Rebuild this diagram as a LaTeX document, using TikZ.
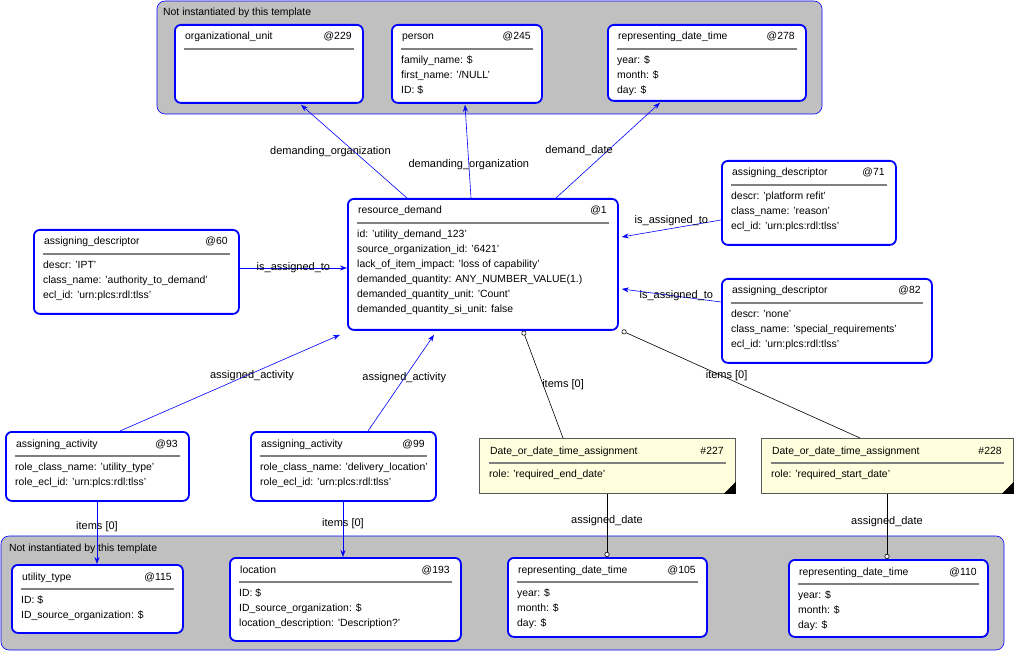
\documentclass[tikz,border=0pt]{standalone}
\usepackage{fontspec}
\setmainfont{Liberation Sans}
\usetikzlibrary{calc,arrows.meta,positioning}

\definecolor{grpgray}{RGB}{192,192,192}
\definecolor{noteyel}{RGB}{255,255,221}

\tikzset{
	ent/.style={draw=blue,line width=1.8pt,rounded corners=6pt,fill=white,inner sep=0pt},
	note/.style={draw=gray!70!black,line width=0.8pt,fill=noteyel,inner sep=0pt},
	grp/.style={draw=blue,line width=0.6pt,rounded corners=8pt,fill=grpgray},
	rel/.style={draw=blue,line width=0.6pt,-{Stealth[length=7pt,width=5pt]}},
	agg/.style={draw=black,line width=0.6pt,-{Circle[open,length=5pt,width=5pt,fill=white]}},
	lbl/.style={font=\fontsize{11}{12}\selectfont,inner sep=1pt},
	txt/.style={font=\fontsize{10.4}{15}\selectfont,inner sep=0pt},
}

% #1 name, #2 style, #3 x, #4 y, #5 w, #6 h, #7 title, #8 id, #9 attributes
\newcommand\entbox[9]{%
	\node[#2,minimum width=#5pt,minimum height=#6pt,anchor=north west] (#1) at (#3,#4) {};
	\node[txt,anchor=base west] at ($(#1.north west)+(11,16)$) {#7};
	\node[txt,anchor=base east] at ($(#1.north east)+(-12,16)$) {#8};
	\draw[gray,line width=1.4pt] ($(#1.north west)+(10,25)$) -- ($(#1.north east)+(-10,25)$);
	\node[txt,anchor=north west,align=left] at ($(#1.north west)+(10,32)$) {#9};
}

\begin{document}
\begin{tikzpicture}[x=1pt,y=-1pt]
	\useasboundingbox (0,0) rectangle (1015,652);
	% groups
	\draw[grp] (157,1) rectangle (822,114);
	\node[txt,anchor=base west] at (163,16) {Not instantiated by this template};
	\draw[grp] (1,536) rectangle (1004,650);
	\node[txt,anchor=base west] at (9,551) {Not instantiated by this template};

	% top group
	\entbox{org}{ent}{174}{24}{188}{78}{organizational\_unit}{@229}{}
	\entbox{pers}{ent}{391}{24}{150}{78}{person}{@245}{family\_name: \$\\first\_name: '/NULL'\\ID: \$}
	\entbox{rdtA}{ent}{607}{24}{198}{76}{representing\_date\_time}{@278}{year: \$\\month: \$\\day: \$}

	% centre
	\entbox{rd}{ent}{347}{198}{270}{131}{resource\_demand}{@1}{id: 'utility\_demand\_123'\\source\_organization\_id: '6421'\\lack\_of\_item\_impact: 'loss of capability'\\demanded\_quantity: ANY\_NUMBER\_VALUE(1.)\\demanded\_quantity\_unit: 'Count'\\demanded\_quantity\_si\_unit: false}
	\entbox{adA}{ent}{33}{229}{205}{84}{assigning\_descriptor}{@60}{descr: 'IPT'\\class\_name: 'authority\_to\_demand'\\ecl\_id: 'urn:plcs:rdl:tlss'}
	\entbox{adB}{ent}{721}{160}{174}{84}{assigning\_descriptor}{@71}{descr: 'platform refit'\\class\_name: 'reason'\\ecl\_id: 'urn:plcs:rdl:tlss'}
	\entbox{adC}{ent}{721}{278}{210}{84}{assigning\_descriptor}{@82}{descr: 'none'\\class\_name: 'special\_requirements'\\ecl\_id: 'urn:plcs:rdl:tlss'}

	% activities and notes
	\entbox{actA}{ent}{5}{431}{183}{69}{assigning\_activity}{@93}{role\_class\_name: 'utility\_type'\\role\_ecl\_id: 'urn:plcs:rdl:tlss'}
	\entbox{actB}{ent}{250}{431}{185}{69}{assigning\_activity}{@99}{role\_class\_name: 'delivery\_location'\\role\_ecl\_id: 'urn:plcs:rdl:tlss'}
	\entbox{dtA}{note}{479}{438}{256}{55}{Date\_or\_date\_time\_assignment}{\#227}{role: 'required\_end\_date'}
	\entbox{dtB}{note}{761}{438}{252}{55}{Date\_or\_date\_time\_assignment}{\#228}{role: 'required\_start\_date'}
	\fill ($(dtA.south east)+(-12,0)$) -- (dtA.south east) -- ($(dtA.south east)+(0,-12)$) -- cycle;
	\fill ($(dtB.south east)+(-12,0)$) -- (dtB.south east) -- ($(dtB.south east)+(0,-12)$) -- cycle;

	% bottom group
	\entbox{util}{ent}{11}{564}{171}{68}{utility\_type}{@115}{ID: \$\\ID\_source\_organization: \$}
	\entbox{loc}{ent}{229}{557}{231}{83}{location}{@193}{ID: \$\\ID\_source\_organization: \$\\location\_description: 'Description?'}
	\entbox{rdtB}{ent}{507}{557}{199}{79}{representing\_date\_time}{@105}{year: \$\\month: \$\\day: \$}
	\entbox{rdtC}{ent}{788}{559}{199}{77}{representing\_date\_time}{@110}{year: \$\\month: \$\\day: \$}

	% relations
	\draw[rel] ($(rd.north west)+(60,0)$) -- node[lbl,pos=0.5,left=-38pt]{demanding\_organization} ($(org.south west)+(127,1)$);
	\draw[rel] ($(rd.north west)+(124,0)$) -- node[lbl,pos=0.36]{demanding\_organization} ($(pers.south west)+(74,1)$);
	\draw[rel] ($(rd.north west)+(209,0)$) -- node[lbl,pos=0.5,left=-6pt]{demand\_date} ($(rdtA.south west)+(53,1)$);
	\draw[rel] ($(adA.north east)+(0,39)$) -- node[lbl,pos=0.5]{is\_assigned\_to} ($(rd.north west)+(0,70)$);
	\draw[rel] ($(adB.north west)+(0,60)$) -- node[lbl,pos=0.5,above=1pt]{is\_assigned\_to} ($(rd.north east)+(3,39)$);
	\draw[rel] ($(adC.north west)+(0,24)$) -- node[lbl,pos=0.45]{is\_assigned\_to} ($(rd.north east)+(3,91)$);
	\draw[rel] ($(actA.north west)+(115,0)$) -- node[lbl,pos=0.6,below=-4pt]{assigned\_activity} ($(rd.south west)+(-7,4)$);
	\draw[rel] ($(actB.north west)+(118,0)$) -- node[lbl,pos=0.55]{assigned\_activity} ($(rd.south west)+(87,4)$);
	\draw[agg] ($(dtA.north west)+(84,0)$) -- node[lbl,pos=0.5,right=-2pt]{items [0]} ($(rd.south west)+(176,0)$);
	\draw[agg] ($(dtB.north west)+(99,0)$) -- node[lbl,pos=0.56,above=-4pt]{items [0]} ($(rd.south east)+(3,0)$);
	\draw[rel] ($(actA.south west)+(92,0)$) -- node[lbl,pos=0.4]{items [0]} ($(util.north west)+(86,0)$);
	\draw[rel] ($(actB.south west)+(93,0)$) -- node[lbl,pos=0.4]{items [0]} ($(loc.north west)+(114,0)$);
	\draw[agg] ($(dtA.south west)+(128,0)$) -- node[lbl,pos=0.42]{assigned\_date} ($(rdtB.north west)+(100,0)$);
	\draw[agg] ($(dtB.south west)+(126,0)$) -- node[lbl,pos=0.42]{assigned\_date} ($(rdtC.north west)+(99,0)$);
\end{tikzpicture}
\end{document}
